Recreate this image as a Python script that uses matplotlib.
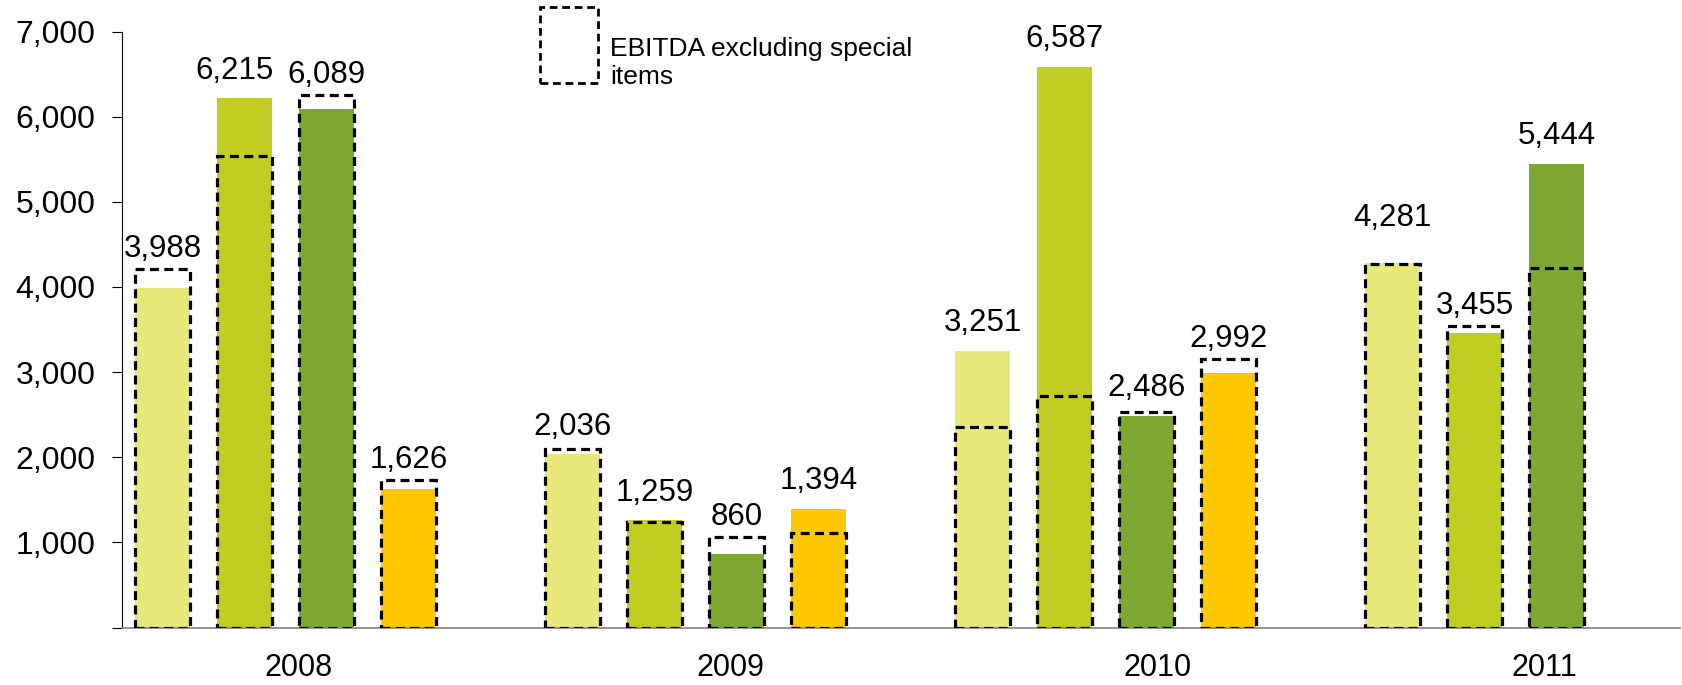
import matplotlib.pyplot as plt
from matplotlib.patches import Rectangle
from matplotlib.ticker import FuncFormatter

plt.rcParams['font.family'] = ['Liberation Sans', 'DejaVu Sans']

years = ['2008', '2009', '2010', '2011']

# EBITDA per series (one value per year), None = no bar
ebitda_1 = [3988, 2036, 3251, 4281]
ebitda_2 = [6215, 1259, 6587, 3455]
ebitda_3 = [6089, 860, 2486, 5444]
ebitda_4 = [1626, 1394, 2992, None]

# EBITDA excluding special items (dashed outlines)
excl_1 = [4210, 2100, 2350, 4270]
excl_2 = [5540, 1245, 2720, 3545]
excl_3 = [6255, 1060, 2535, 4220]
excl_4 = [1735, 1110, 3150, None]

ebitda = [ebitda_1, ebitda_2, ebitda_3, ebitda_4]
excl = [excl_1, excl_2, excl_3, excl_4]
colors = ['#E8E87A', '#C0CE23', '#7EA832', '#FFC800']

dash = (0, (2.8, 1.7))
# a few labels were moved by hand in the original
nudge = {(0, 1): (-0.12, 0), (3, 0): (0, 210)}

fig = plt.figure(figsize=(16.83, 6.85), dpi=100)
ax = fig.add_axes([0.0723, 0.0839, 0.9257, 0.8701])

width = 0.67
for i in range(4):
    for g in range(len(years)):
        v = ebitda[i][g]
        if v is None:
            continue
        x = g * 5 + i
        ax.bar(x, v, width=width, color=colors[i], zorder=2)
        ax.bar(x, excl[i][g], width=width, fill=False, edgecolor='black',
               linewidth=2.3, linestyle=dash, zorder=3)
        dx, dy = nudge.get((g, i), (0, 0))
        y_lab = max(v + 230, excl[i][g] + 143) + dy
        ax.text(x + dx, y_lab, f'{v:,}', ha='center', va='baseline', fontsize=22.5)

ax.set_xlim(-0.5, 18.5)
ax.set_ylim(0, 7000)
ax.set_yticks(range(0, 8000, 1000))
ax.yaxis.set_major_formatter(FuncFormatter(lambda v, p: '' if v == 0 else f'{int(v):,}'))
ax.tick_params(axis='y', length=7, width=0.8, pad=12, labelsize=23)

ax.set_xticks([1.66, 6.93, 12.13, 16.85])
ax.set_xticklabels(years)
ax.tick_params(axis='x', length=0, pad=18, labelsize=22)

for s in ['top', 'right']:
    ax.spines[s].set_visible(False)
ax.spines['left'].set_linewidth(0.8)
ax.spines['bottom'].set_color('#808080')
ax.spines['bottom'].set_linewidth(1.2)

# legend: dashed box + label
fig.patches.append(Rectangle((540 / 1683, 1 - 83 / 685), 58 / 1683, 76 / 685,
                             transform=fig.transFigure, fill=False, edgecolor='black',
                             linewidth=2.0, linestyle=dash))
fig.text(610 / 1683, 1 - 63 / 685, 'EBITDA excluding special\nitems',
         ha='left', va='center', fontsize=19, linespacing=1.2)

fig.savefig('out.png', dpi=100)
